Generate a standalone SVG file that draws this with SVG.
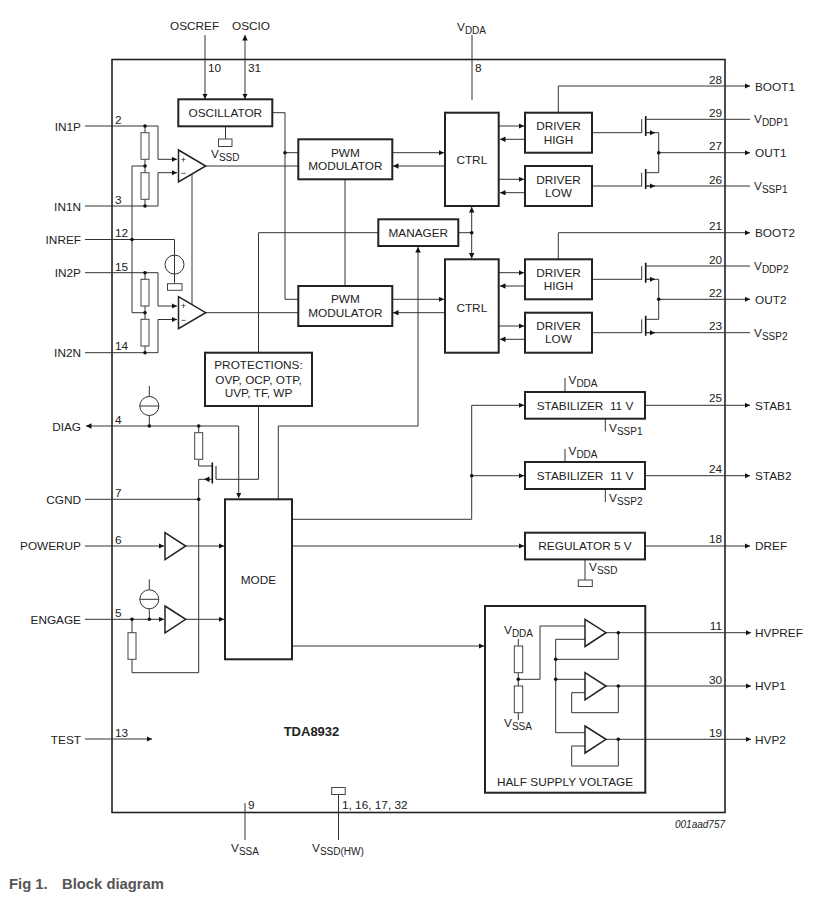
<svg xmlns="http://www.w3.org/2000/svg" width="820" height="898" viewBox="0 0 820 898">
<style>
text{font-family:"Liberation Sans",Arial,sans-serif;font-size:11.8px;fill:#222}
.m{text-anchor:middle}
.e{text-anchor:end}
.s{font-size:10px}
.b{fill:#fff;stroke:#222;stroke-width:2}
.w{fill:none;stroke:#333;stroke-width:1}
.r{fill:#fff;stroke:#444;stroke-width:1}
.t{fill:#fff;stroke:#222;stroke-width:1.5;stroke-linejoin:miter}
.a{marker-end:url(#ar)}
.d{marker-start:url(#ar);marker-end:url(#ar)}
.dot{fill:#111;stroke:none}
</style>
<defs>
<marker id="ar" markerUnits="userSpaceOnUse" markerWidth="6" markerHeight="6" refX="5.5" refY="2.75" orient="auto-start-reverse"><path d="M0,0L5.5,2.75L0,5.5z" fill="#111"/></marker>
</defs>
<rect width="820" height="898" fill="#fff"/>
<rect id="chip" x="112" y="59.5" width="613" height="753" fill="none" stroke="#222" stroke-width="1.6"/>

<g id="connectors" class="w" fill="none">
<path class="w" d="M85 126H158V159.3"/>
<path class="w a" d="M158 159.3H177"/>
<path class="w" d="M145 126V206M85 206H158V172.7"/>
<path class="w a" d="M158 172.7H177"/>
<path class="w" d="M145 166H132V312.7H145"/>
<path class="w" d="M85 239.5H174.5V283.7"/>
<path class="w" d="M85 272.7H158V306"/>
<path class="w a" d="M158 306H177"/>
<path class="w" d="M145 272.7V352.7M85 352.7H158V319.5"/>
<path class="w a" d="M158 319.5H177"/>
<path class="w" d="M192 174V305"/>
<path class="w" d="M205.7 166H298M205.7 312.7H298"/>
<path class="w a" d="M205 35V99"/>
<path class="w d" d="M245 35V99"/>
<path class="w" d="M472 35V100"/>
<path class="w" d="M272.3 112.7H285V299.3H298M285 152.7H298"/>
<path class="w" d="M225.5 126.7V139"/>
<path class="w" d="M345 179.3V286"/>
<path class="w a" d="M392 152.7H444"/><path class="w a" d="M445 166H393"/>
<path class="w a" d="M392 299.3H444"/><path class="w a" d="M445 312.7H393"/>
<path class="w" d="M378 232.7H258.5V353M258.5 406V479.3H216"/>
<path class="w" d="M458 232.7H471.7"/>
<path class="w d" d="M471.7 207V258.5"/>
<path class="w a" d="M278.3 499.3V426H418V247"/>
<path class="w a" d="M499 126H524"/><path class="w a" d="M525 139.3H500"/>
<path class="w a" d="M499 179.3H524"/><path class="w a" d="M525 192.7H500"/>
<path class="w a" d="M499 272.7H524"/><path class="w a" d="M525 286H500"/>
<path class="w a" d="M499 326H524"/><path class="w a" d="M525 339.3H500"/>
<path class="w a" d="M558.3 112.7V86H750"/>
<path class="w a" d="M558.3 259.3V232.7H750"/>
<path class="w" d="M592 132.7H641.7M592 186H641.7M592 279.3H641.7M592 332.7H641.7"/>
<path class="w" d="M641.7 119V133M641.7 172.7V186.5M641.7 266V279.8M641.7 319.3V333"/>
<path stroke="#111" stroke-width="1.6" fill="none" d="M645.7 116V136M645.7 169V189M645.7 262.7V282.7M645.7 315.7V335.7"/>
<path class="w" d="M645.7 119.3H750M645.7 266H750"/>
<path class="w" d="M645.7 132.7H658.7V172.7H645.7M645.7 279.3H658.7V319.3H645.7"/>
<path class="w" d="M645.7 186H750M645.7 332.7H750"/>
<path class="w a" d="M658.7 152.7H750"/>
<path class="w a" d="M658.7 299.3H750"/>
<path class="w a" d="M645.7 132.7H655"/><path class="w a" d="M645.7 186H655"/><path class="w a" d="M645.7 279.3H655"/><path class="w a" d="M645.7 332.7H655"/>
<path class="w a" d="M238.7 426H86"/>
<path class="w a" d="M238.7 426V498"/>
<path class="w" d="M149.3 386V396.5M149.3 415.5V426M198.7 426V432.7M198.7 459.3V466H212"/>
<path stroke="#111" stroke-width="1.6" fill="none" d="M212.3 462.5V483.5"/>
<path stroke="#444" stroke-width="1.2" fill="none" d="M216 466V479.3"/>
<path class="w a" d="M212 479.3H204"/>
<path class="w" d="M204 479.3H198.7V672.7H132V659.3M132 632.7V619.3"/>
<path class="w" d="M85 499.3H198.7"/>
<path class="w a" d="M85 546H164"/><path class="w a" d="M186 546H224"/>
<path class="w a" d="M85 619.3H164"/><path class="w a" d="M186 619.3H224"/>
<path class="w" d="M149.3 579.3V589.8M149.3 608.8V619.3"/>
<path class="w a" d="M292 519.3H471.7V405.3H524"/>
<path class="w a" d="M471.7 475.7H524"/>
<path class="w a" d="M292 546H524"/>
<path class="w a" d="M292 646H484"/>
<path class="w" d="M565 378V392M605.3 419V431.5M565 449V462M605.3 489V502M585 560V580"/>
<path class="w a" d="M645 405.3H750"/><path class="w a" d="M645 475.7H750"/><path class="w a" d="M645 546H750"/>
<path class="w a" d="M606 632.7H751"/><path class="w a" d="M606 686H751"/><path class="w a" d="M606 739.3H751"/>
<path class="w" d="M618.3 632.7V659.3H555.7M555.7 639.3V732.7H585M555.7 639.3H585M555.7 679.3H585"/>
<path class="w" d="M585 626H540V679.3H518.3M518.3 639V720"/>
<path class="w" d="M618.3 686V712.7H571.7V692.7H585M618.3 739.3V766H571.7V746H585"/>
<path class="w a" d="M85 739H152"/>
<path class="w" d="M245 803V840M338.5 794.5V840"/>
</g>

<g id="dots" class="dot">
<circle cx="145" cy="126" r="1.8"/><circle cx="145" cy="166" r="1.8"/><circle cx="145" cy="206" r="1.8"/>
<circle cx="132" cy="239.5" r="1.8"/><circle cx="145" cy="272.7" r="1.8"/><circle cx="145" cy="312.7" r="1.8"/><circle cx="145" cy="352.7" r="1.8"/>
<circle cx="285" cy="152.7" r="1.8"/><circle cx="471.7" cy="232.7" r="1.8"/><circle cx="658.7" cy="152.7" r="1.8"/><circle cx="658.7" cy="299.3" r="1.8"/>
<circle cx="149.3" cy="426" r="1.8"/><circle cx="198.7" cy="426" r="1.8"/><circle cx="198.7" cy="499.3" r="1.8"/>
<circle cx="132" cy="619.3" r="1.8"/><circle cx="149.3" cy="619.3" r="1.8"/><circle cx="471.7" cy="475.7" r="1.8"/>
<circle cx="618.3" cy="632.7" r="1.8"/><circle cx="555.7" cy="659.3" r="1.8"/><circle cx="555.7" cy="679.3" r="1.8"/><circle cx="518.3" cy="679.3" r="1.8"/><circle cx="618.3" cy="686" r="1.8"/><circle cx="618.3" cy="739.3" r="1.8"/>
</g>

<g id="resistors" class="r">
<rect class="r" x="141" y="132.7" width="8" height="26.6"/><rect class="r" x="141" y="172.7" width="8" height="26.6"/>
<rect class="r" x="141" y="279.3" width="8" height="26.7"/><rect class="r" x="141" y="319.3" width="8" height="26.7"/>
<rect class="r" x="194.7" y="432.7" width="8" height="26.6"/><rect class="r" x="128" y="632.7" width="8" height="26.6"/>
<rect class="r" x="514.3" y="646" width="8.4" height="26.7"/><rect class="r" x="514.3" y="686" width="8.4" height="26.7"/>
<rect class="r" x="218.5" y="139" width="13.5" height="7.5"/><rect class="r" x="167.5" y="283.7" width="14.5" height="6.6"/>
<rect class="r" x="578.3" y="580" width="14" height="6.5"/><rect class="r" x="331.7" y="787.5" width="13.5" height="7"/>
</g>

<g id="sources">
<circle class="w" cx="174.5" cy="264.6" r="9.5"/>
<g><circle class="w" cx="149.3" cy="406" r="9.5"/><path class="w" d="M139.8 406H158.8"/></g>
<g><circle class="w" cx="149.3" cy="599.3" r="9.5"/><path class="w" d="M139.8 599.3H158.8"/></g>
</g>

<g id="amp1"><path class="t" d="M178.5 150L205.7 166L178.5 182z"/><text class="m" x="183.5" y="162.5" style="font-size:9px">+</text><text class="m" x="183.5" y="176" style="font-size:9px">−</text></g>
<g id="amp2"><path class="t" d="M178.5 296.7L205.7 312.7L178.5 328.7z"/><text class="m" x="183.5" y="309" style="font-size:9px">+</text><text class="m" x="183.5" y="322.5" style="font-size:9px">−</text></g>
<g id="buf-powerup"><path class="t" d="M165 532.7L185.7 546L165 559.6z"/></g>
<g id="buf-engage"><path class="t" d="M165 606L185.7 619.3L165 632.8z"/></g>
<g id="hsv-amp1"><path class="t" d="M585 619.3L606 632.7L585 646.5z"/></g>
<g id="hsv-amp2"><path class="t" d="M585 672.7L606 686L585 699.8z"/></g>
<g id="hsv-amp3"><path class="t" d="M585 726L606 739.3L585 753z"/></g>

<g id="oscillator"><rect class="b" x="178.3" y="99.3" width="94" height="27"/><text class="m" x="225.3" y="116.5">OSCILLATOR</text></g>
<g id="pwm1"><rect class="b" x="298.3" y="139.3" width="94" height="40"/><text class="m" x="345.3" y="156.5">PWM</text><text class="m" x="345.3" y="170">MODULATOR</text></g>
<g id="pwm2"><rect class="b" x="298.3" y="286" width="94" height="40"/><text class="m" x="345.3" y="303">PWM</text><text class="m" x="345.3" y="316.5">MODULATOR</text></g>
<g id="manager"><rect class="b" x="378.3" y="219.3" width="80" height="26.7"/><text class="m" x="418.3" y="237">MANAGER</text></g>
<g id="ctrl1"><rect class="b" x="445" y="112.7" width="53.7" height="93.3"/><text class="m" x="471.8" y="164">CTRL</text></g>
<g id="ctrl2"><rect class="b" x="445" y="259.3" width="53.7" height="93.4"/><text class="m" x="471.8" y="311.5">CTRL</text></g>
<g id="driver-high1"><rect class="b" x="525" y="112.7" width="67" height="40"/><text class="m" x="558.5" y="130">DRIVER</text><text class="m" x="558.5" y="143.5">HIGH</text></g>
<g id="driver-low1"><rect class="b" x="525" y="166" width="67" height="40"/><text class="m" x="558.5" y="183.5">DRIVER</text><text class="m" x="558.5" y="196.5">LOW</text></g>
<g id="driver-high2"><rect class="b" x="525" y="259.3" width="67" height="40"/><text class="m" x="558.5" y="276.5">DRIVER</text><text class="m" x="558.5" y="289.5">HIGH</text></g>
<g id="driver-low2"><rect class="b" x="525" y="312.7" width="67" height="40"/><text class="m" x="558.5" y="330">DRIVER</text><text class="m" x="558.5" y="343">LOW</text></g>
<g id="protections"><rect class="b" x="205" y="352.7" width="107" height="53.3"/><text class="m" x="258.5" y="369">PROTECTIONS:</text><text class="m" x="258.5" y="384">OVP, OCP, OTP,</text><text class="m" x="258.5" y="397">UVP, TF, WP</text></g>
<g id="mode"><rect class="b" x="225" y="499.3" width="67" height="160"/><text class="m" x="258.5" y="584">MODE</text></g>
<g id="stab1"><rect class="b" x="525" y="392" width="120" height="26.7"/><text class="m" x="585" y="409.5" xml:space="preserve">STABILIZER  11 V</text></g>
<g id="stab2"><rect class="b" x="525" y="462" width="120" height="27"/><text class="m" x="585" y="480" xml:space="preserve">STABILIZER  11 V</text></g>
<g id="regulator"><rect class="b" x="525" y="532.7" width="120" height="26.7"/><text class="m" x="585" y="550">REGULATOR 5 V</text></g>
<g id="half-supply"><rect x="485" y="606" width="160.3" height="186.7" fill="none" stroke="#222" stroke-width="2"/><text class="m" x="565" y="785.5">HALF SUPPLY VOLTAGE</text></g>

<g id="labels">
<text class="e" x="81" y="130.5">IN1P</text><text class="e" x="81" y="210.5">IN1N</text><text class="e" x="81" y="244">INREF</text><text class="e" x="81" y="277">IN2P</text><text class="e" x="81" y="357">IN2N</text>
<text class="e" x="81" y="430.5">DIAG</text><text class="e" x="81" y="504">CGND</text><text class="e" x="81" y="550">POWERUP</text><text class="e" x="81" y="624">ENGAGE</text><text class="e" x="81" y="743.5">TEST</text>
<text x="115" y="124">2</text><text x="115" y="204">3</text><text x="115" y="237">12</text><text x="115" y="270.5">15</text><text x="115" y="350">14</text>
<text x="115" y="424">4</text><text x="115" y="497">7</text><text x="115" y="544">6</text><text x="115" y="617">5</text><text x="115" y="737">13</text>
<text x="170" y="30">OSCREF</text><text x="232" y="30">OSCIO</text>
<text x="208" y="72">10</text><text x="248" y="72">31</text><text x="475" y="72">8</text>
<text x="457" y="31">V<tspan class="s" dy="3">DDA</tspan></text>
<text x="211" y="158">V<tspan class="s" dy="3">SSD</tspan></text>
<text class="e" x="722" y="84">28</text><text class="e" x="722" y="117">29</text><text class="e" x="722" y="150">27</text><text class="e" x="722" y="184">26</text>
<text class="e" x="722" y="230">21</text><text class="e" x="722" y="264">20</text><text class="e" x="722" y="297">22</text><text class="e" x="722" y="330">23</text>
<text class="e" x="722" y="402">25</text><text class="e" x="722" y="473">24</text><text class="e" x="722" y="543">18</text>
<text class="e" x="722" y="630">11</text><text class="e" x="722" y="684">30</text><text class="e" x="722" y="737">19</text>
<text x="755" y="90.5">BOOT1</text><text x="754" y="123">V<tspan class="s" dy="3">DDP1</tspan></text><text x="755" y="157">OUT1</text><text x="754" y="190">V<tspan class="s" dy="3">SSP1</tspan></text>
<text x="755" y="237">BOOT2</text><text x="754" y="270">V<tspan class="s" dy="3">DDP2</tspan></text><text x="755" y="303.5">OUT2</text><text x="754" y="337">V<tspan class="s" dy="3">SSP2</tspan></text>
<text x="755" y="409.5">STAB1</text><text x="755" y="480">STAB2</text><text x="755" y="550">DREF</text>
<text x="755" y="637">HVPREF</text><text x="755" y="690">HVP1</text><text x="755" y="743.5">HVP2</text>
<text x="568.5" y="384">V<tspan class="s" dy="3">DDA</tspan></text><text x="609" y="431.5">V<tspan class="s" dy="3">SSP1</tspan></text>
<text x="568.5" y="455">V<tspan class="s" dy="3">DDA</tspan></text><text x="609" y="502">V<tspan class="s" dy="3">SSP2</tspan></text>
<text x="589" y="571">V<tspan class="s" dy="3">SSD</tspan></text>
<text x="504" y="634">V<tspan class="s" dy="3">DDA</tspan></text><text x="504" y="727">V<tspan class="s" dy="3">SSA</tspan></text>
<text x="248" y="809">9</text><text x="342" y="809">1, 16, 17, 32</text>
<text x="231" y="852">V<tspan class="s" dy="3">SSA</tspan></text><text x="312" y="852">V<tspan class="s" dy="3">SSD(HW)</tspan></text>
<text class="m" x="311.5" y="736" style="font-weight:bold;font-size:13px">TDA8932</text>
<text x="675" y="828" style="font-style:italic;font-size:10px">001aad757</text>
<text x="9" y="889" style="font-weight:bold;font-size:14.8px;fill:#555">Fig 1.</text><text x="62" y="889" style="font-weight:bold;font-size:14.8px;fill:#555">Block diagram</text>
</g>
</svg>
